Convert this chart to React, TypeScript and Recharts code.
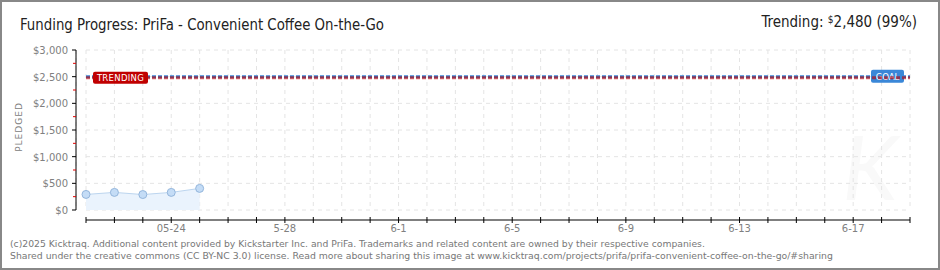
import { ComposedChart, Area, XAxis, YAxis, CartesianGrid, ReferenceLine } from 'recharts';

const dates = [
  '5-21', '5-22', '5-23', '05-24', '5-25', '5-26', '5-27', '5-28', '5-29', '5-30',
  '5-31', '6-1', '6-2', '6-3', '6-4', '6-5', '6-6', '6-7', '6-8', '6-9',
  '6-10', '6-11', '6-12', '6-13', '6-14', '6-15', '6-16', '6-17', '6-18', '6-19',
];
const pledged = [292, 330, 290, 330, 405];
const labeledDates = ['05-24', '5-28', '6-1', '6-5', '6-9', '6-13', '6-17'];
const yTicks = [0, 250, 500, 750, 1000, 1250, 1500, 1750, 2000, 2250, 2500, 2750, 3000];
const goal = 2500;
const trending = 2480;

const PAD_LEFT = 10;
const PAD_BOTTOM = 10;
const PLOT_H = 160;

const data = dates.map((d, i) => ({ date: d, pledged: i < pledged.length ? pledged[i] : null }));

const fmt = (v: number) => '$' + v.toLocaleString('en-US');

const YTick = (props: any) => {
  const { x, y, payload } = props;
  const v = payload.value as number;
  if (v % 500 !== 0) {
    return <line x1={x - 3} x2={x} y1={y} y2={y} stroke="#e00000" />;
  }
  return (
    <g>
      <line x1={x - 4} x2={x} y1={y} y2={y} stroke="#000" />
      <text x={x - 8} y={y + 4} textAnchor="end" fontSize={10} fill="#808080" fontFamily="DejaVu Sans">
        {fmt(v)}
      </text>
    </g>
  );
};

const XTick = (props: any) => {
  const { x, y, payload } = props;
  const show = labeledDates.includes(payload.value);
  return (
    <g>
      <line x1={x} x2={x} y1={y - 3} y2={y + 3} stroke="#000" />
      {show && (
        <text x={x} y={y + 12} textAnchor="middle" fontSize={10} fill="#808080" fontFamily="DejaVu Sans">
          {payload.value}
        </text>
      )}
    </g>
  );
};

const HGrid = (p: any) =>
  p.index % 2 === 0 ? (
    <line key={p.key} x1={p.x1 + PAD_LEFT} x2={p.x2} y1={p.y1} y2={p.y2} stroke="#e4e4e4" strokeDasharray="4 4" />
  ) : (
    <g key={p.key} />
  );

const VGrid = (p: any) => (
  <line key={p.key} x1={p.x1} x2={p.x2} y1={p.y1} y2={p.y2 - PAD_BOTTOM} stroke="#e4e4e4" strokeDasharray="4 4" />
);

const TrendLabel = (props: any) => {
  const { viewBox } = props;
  const x = viewBox.x + 7;
  const y = viewBox.y;
  return (
    <g>
      <rect x={x} y={y - 6} width={55} height={12} rx={2} fill="#c00000" />
      <text x={x + 27.5} y={y + 3.5} textAnchor="middle" fontSize={8.5} fill="#fff" fontFamily="DejaVu Sans" letterSpacing={0.3}>
        TRENDING
      </text>
    </g>
  );
};

const GoalLabel = (props: any) => {
  const { viewBox } = props;
  const x = viewBox.x + viewBox.width - 39;
  const y = viewBox.y;
  return (
    <g>
      <rect x={x} y={y - 7} width={33} height={13} rx={2} fill="#3a87d8" />
      <text x={x + 16.5} y={y + 3} textAnchor="middle" fontSize={8.5} fill="#fff" fontFamily="DejaVu Sans">
        GOAL
      </text>
    </g>
  );
};

export default function App() {
  return (
    <div style={{ position: 'absolute', left: 0, top: 0, width: 940, height: 270, background: '#fff' }}>
      <svg width={940} height={270} style={{ position: 'absolute', left: 0, top: 0 }}>
        <rect x={1} y={1} width={938} height={268} fill="#fff" stroke="#888" strokeWidth={2} />
        <text x={870} y={200} textAnchor="middle" fontSize={90} fontStyle="italic" fill="#f9f9f9" fontFamily="Lato">
          K
        </text>
        <text x={20} y={30} fontSize={16} fill="#222" fontFamily="'DejaVu Sans Condensed', Roboto" textLength={364} lengthAdjust="spacingAndGlyphs">
          Funding Progress: PriFa - Convenient Coffee On-the-Go
        </text>
        <text x={917} y={27} textAnchor="end" fontSize={15} fill="#222" fontFamily="'DejaVu Sans Condensed', Roboto">
          Trending:{'  '}
          <tspan fontSize={10} dy={-4}>$</tspan>
          <tspan dy={4}>2,480 (99%)</tspan>
        </text>
        <text x={22} y={127} transform="rotate(-90 22 127)" textAnchor="middle" fontSize={9} fill="#808080" fontFamily="DejaVu Sans" letterSpacing={1}>
          PLEDGED
        </text>
        <text x={10} y={247} fontSize={9.25} fill="#777" fontFamily="DejaVu Sans">
          (c)2025 Kicktraq. Additional content provided by Kickstarter Inc. and PriFa. Trademarks and related content are owned by their respective companies.
        </text>
        <text x={10} y={259} fontSize={9.3} fill="#777" fontFamily="DejaVu Sans">
          Shared under the creative commons (CC BY-NC 3.0) license. Read more about sharing this image at www.kicktraq.com/projects/prifa/prifa-convenient-coffee-on-the-go/#sharing
        </text>
      </svg>
      <div style={{ position: 'absolute', left: 0, top: 0 }}>
        <ComposedChart width={940} height={270} data={data} margin={{ top: 50, right: 30, bottom: 20, left: 0 }}>
          <CartesianGrid horizontal={HGrid} vertical={VGrid} />
          <XAxis
            dataKey="date"
            interval={0}
            padding={{ left: PAD_LEFT, right: 0 }}
            height={30}
            tickSize={0}
            tickMargin={0}
            tick={<XTick />}
            axisLine={{ stroke: '#000', strokeDasharray: `0 ${PAD_LEFT} 2000` }}
          />
          <YAxis
            domain={[0, 3000]}
            ticks={yTicks}
            interval={0}
            width={76}
            padding={{ top: 0, bottom: PAD_BOTTOM }}
            tickSize={0}
            tickMargin={0}
            tick={<YTick />}
            axisLine={{ stroke: '#000', strokeDasharray: `${PLOT_H} 2000` }}
          />
          <Area
            type="linear"
            dataKey="pledged"
            stroke="#bcd5ef"
            strokeWidth={1}
            fill="#eaf3fd"
            fillOpacity={1}
            dot={{ r: 4, fill: '#c4dcf6', stroke: '#94b6dc', strokeWidth: 1 }}
            isAnimationActive={false}
          />
          <ReferenceLine
            segment={[{ x: dates[0], y: goal }, { x: dates[dates.length - 1], y: goal }]}
            stroke="#3a87d8"
            strokeWidth={3}
            strokeDasharray="4 2"
            label={<GoalLabel />}
          />
          <ReferenceLine
            segment={[{ x: dates[0], y: trending }, { x: dates[dates.length - 1], y: trending }]}
            stroke="#c00000"
            strokeOpacity={0.6}
            strokeWidth={3}
            strokeDasharray="4 2"
            label={<TrendLabel />}
          />
        </ComposedChart>
      </div>
    </div>
  );
}
